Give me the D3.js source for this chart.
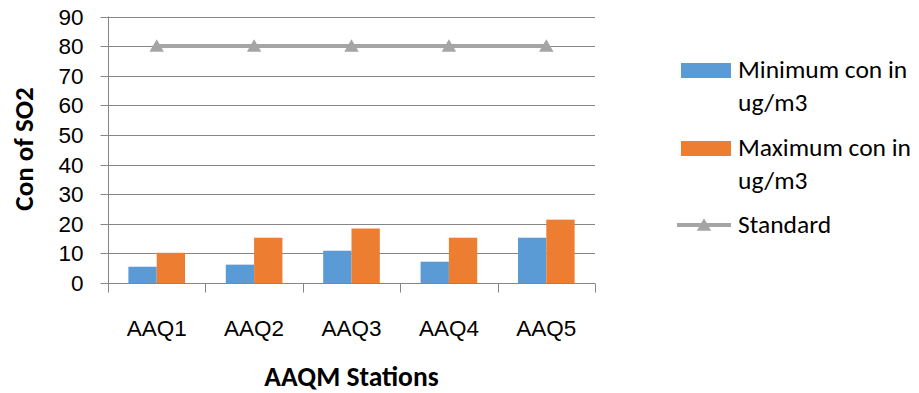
<!DOCTYPE html>
<html>
<head>
<meta charset="utf-8">
<script src="https://cdn.jsdelivr.net/npm/d3@7"></script>
<style>
  html, body { margin: 0; padding: 0; background: #fff; }
  svg { display: block; font-family: Carlito, Lato, "Open Sans", sans-serif; }
</style>
</head>
<body>
<svg id="chart" width="919" height="393"></svg>
<script>
// SO2 concentrations at ambient air quality monitoring stations
const stations = ["AAQ1", "AAQ2", "AAQ3", "AAQ4", "AAQ5"];
const minCon = [5.5, 6.2, 10.9, 7.2, 15.3];
const maxCon = [10.2, 15.3, 18.4, 15.3, 21.4];
const standard = [80, 80, 80, 80, 80];
const yTicks = [0, 10, 20, 30, 40, 50, 60, 70, 80, 90];
const seriesNames = ["Minimum con in ug/m3", "Maximum con in ug/m3", "Standard"];
const colors = ["#5b9bd5", "#ed7d31", "#a5a5a5"];

const svg = d3.select("#chart");
const plot = { left: 108, right: 595, top: 16.5, bottom: 283 };
const gridColor = "#868686";

const x = d3.scaleBand().domain(stations).range([plot.left, plot.right]).paddingInner(0).paddingOuter(0);
const inner = d3.scaleBand().domain([0, 1]).range([0, x.bandwidth()]).paddingInner(0).paddingOuter(0.72);
const y = d3.scaleLinear().domain([0, 90]).range([plot.bottom, plot.top]);
const py = v => Math.round(y(v)) + 0.5;

// horizontal gridlines
svg.append("g").selectAll("line").data(yTicks).join("line")
  .attr("x1", plot.left).attr("x2", plot.right)
  .attr("y1", d => py(d)).attr("y2", d => py(d))
  .attr("stroke", gridColor).attr("stroke-width", 1);

// y axis
const yAxis = svg.append("g").attr("transform", `translate(${plot.left + 0.5},0)`)
  .call(d3.axisLeft(y).tickValues(yTicks).tickSize(8).tickPadding(17).tickFormat(d3.format("d")));
yAxis.select(".domain").attr("stroke", gridColor).attr("d", `M0,${y(90)}V${y(0)}`);
yAxis.selectAll(".tick line").attr("stroke", gridColor);
yAxis.selectAll(".tick").attr("transform", d => `translate(0,${py(d)})`);
yAxis.selectAll("text").attr("fill", "#000").style("font-size", "22.5px").attr("dy", 7.5);

// bars
const groups = [minCon, maxCon];
groups.forEach((vals, si) => {
  svg.append("g").selectAll("rect").data(vals).join("rect")
    .attr("x", (d, i) => x(stations[i]) + inner(si))
    .attr("width", inner.bandwidth())
    .attr("y", d => y(d))
    .attr("height", d => y(0) - y(d))
    .attr("fill", colors[si]);
});

// x axis
const xAxis = svg.append("g").attr("transform", `translate(0,${py(0)})`)
  .call(d3.axisBottom(x).tickSize(0).tickPadding(0));
xAxis.select(".domain").remove();
xAxis.selectAll("text").attr("fill", "#000").style("font-size", "22.5px")
  .attr("y", 52).attr("dy", 0);
// category boundary ticks
const bounds = stations.map(s => x(s)).concat([plot.right]);
xAxis.append("g").selectAll("line").data(bounds).join("line")
  .attr("x1", d => Math.round(d) + 0.5).attr("x2", d => Math.round(d) + 0.5)
  .attr("y1", 0).attr("y2", 9).attr("stroke", gridColor);
xAxis.append("line").attr("x1", plot.left).attr("x2", plot.right)
  .attr("y1", 0).attr("y2", 0).attr("stroke", gridColor);

// standard line with triangle markers
const cx = s => x(s) + x.bandwidth() / 2;
const line = d3.line().x((d, i) => cx(stations[i])).y(d => y(d));
svg.append("path").datum(standard).attr("d", line)
  .attr("fill", "none").attr("stroke", colors[2]).attr("stroke-width", 4);
const tri = d3.symbol().type(d3.symbolTriangle).size(90);
svg.append("g").selectAll("path").data(standard).join("path")
  .attr("d", tri)
  .attr("transform", (d, i) => `translate(${cx(stations[i])},${y(d) + 1.5})`)
  .attr("fill", colors[2]);

// axis titles
svg.append("text").attr("x", 351.5).attr("y", 386).attr("text-anchor", "middle")
  .style("font-size", "27.5px").style("font-weight", "bold").text("AAQM Stations");
svg.append("text").attr("transform", "translate(33,149) rotate(-90)").attr("text-anchor", "middle")
  .style("font-size", "27px").style("font-weight", "bold").text("Con of SO2");

// legend
const legend = svg.append("g");
const lgText = (yy, lines) => {
  const t = legend.append("text").attr("x", 738).attr("y", yy).style("font-size", "25.5px").attr("fill", "#000");
  lines.forEach((l, k) => t.append("tspan").attr("x", 738).attr("dy", k === 0 ? 0 : 33).text(l));
};
legend.append("rect").attr("x", 681).attr("y", 63).attr("width", 50).attr("height", 15).attr("fill", colors[0]);
lgText(78, ["Minimum con in", "ug/m3"]);
legend.append("rect").attr("x", 681).attr("y", 141).attr("width", 50).attr("height", 15).attr("fill", colors[1]);
lgText(156, ["Maximum con in", "ug/m3"]);
legend.append("line").attr("x1", 677).attr("x2", 731).attr("y1", 225).attr("y2", 225)
  .attr("stroke", colors[2]).attr("stroke-width", 4);
legend.append("path").attr("d", tri).attr("transform", "translate(704,226.5)").attr("fill", colors[2]);
lgText(233, ["Standard"]);
</script>
</body>
</html>
